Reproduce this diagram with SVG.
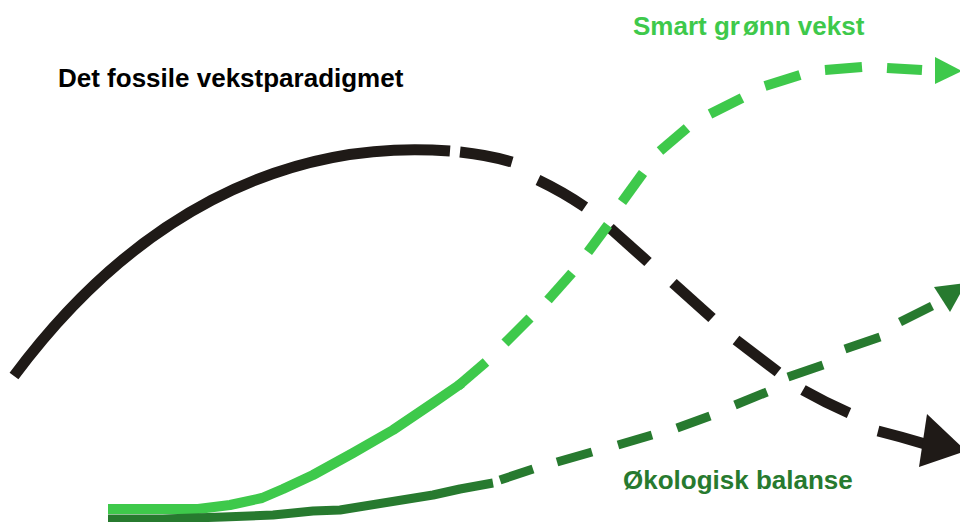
<svg xmlns="http://www.w3.org/2000/svg" width="960" height="522" viewBox="0 0 960 522">
<style>
.blk{fill:none;stroke:#1f1a17;stroke-width:11;stroke-linecap:butt;stroke-linejoin:round}
.lg{fill:none;stroke:#3ec94b;stroke-width:10;stroke-linecap:butt;stroke-linejoin:round}
.dg{fill:none;stroke:#277a2f;stroke-width:9;stroke-linecap:butt;stroke-linejoin:round}
.lbl{font-family:"Liberation Sans",Arial,Helvetica,sans-serif;font-weight:bold;font-size:26px}
</style>
<rect width="960" height="522" fill="#ffffff"/>
<g id="connectors">
<g id="fossil-curve">
<path class="blk" d="M14,376 C130,220 280,138 450,151"/>
<path class="blk" d="M460,152 Q488,155 512,162"/>
<path class="blk" d="M538,180 Q563,192 585,207"/>
<path class="blk" d="M610,228 L648,262"/>
<path class="blk" d="M673,283 L712,318"/>
<path class="blk" d="M736,340 L778,372"/>
<path class="blk" d="M803,390 Q826,403 849,413"/>
<path class="blk" d="M878,431 Q902,437 925,444"/>
<polygon fill="#1f1a17" points="927,414 919,467 966,451"/>
</g>
<g id="smart-curve">
<polyline class="lg" points="108,509 198,509 230,505 262,498 283,489 313,475 353,453 393,430 433,403 462,383"/>
<path class="lg" d="M458,386 L486,362"/>
<path class="lg" d="M505,343 L530,318"/>
<path class="lg" d="M548,300 L572,273"/>
<path class="lg" d="M588,252 L608,225"/>
<path class="lg" d="M622,202 L643,173"/>
<path class="lg" d="M660,151 L687,128"/>
<path class="lg" d="M710,114 L742,98"/>
<path class="lg" d="M765,86 L800,75"/>
<path class="lg" d="M825,70 L862,67"/>
<path class="lg" d="M887,68 L922,70"/>
<polygon fill="#3ec94b" points="935,57 935,84 962,71"/>
</g>
<g id="eco-curve">
<polyline class="dg" points="108,519 163,519 223,517 273,515 313,511 340,510 433,495 460,489 493,483"/>
<path class="dg" d="M500,480 L533,469"/>
<path class="dg" d="M557,462 L592,452"/>
<path class="dg" d="M618,445 L652,435"/>
<path class="dg" d="M677,428 L710,416"/>
<path class="dg" d="M735,405 L767,392"/>
<path class="dg" d="M788,377 L823,365"/>
<path class="dg" d="M845,349 L880,337"/>
<path class="dg" d="M900,322 L932,306"/>
<polygon fill="#277a2f" points="934,287 950,312 966,283"/>
</g>
</g>
<g id="label-fossil">
<text class="lbl" x="58" y="87" fill="#000000">Det fossile vekstparadigmet</text>
</g>
<g id="label-smart">
<text class="lbl" x="633" y="35" fill="#3ec94b">Smart gr<tspan dx="3">ønn vekst</tspan></text>
</g>
<g id="label-eco">
<text class="lbl" x="623" y="489" fill="#277a2f">Økologisk balanse</text>
</g>
</svg>
